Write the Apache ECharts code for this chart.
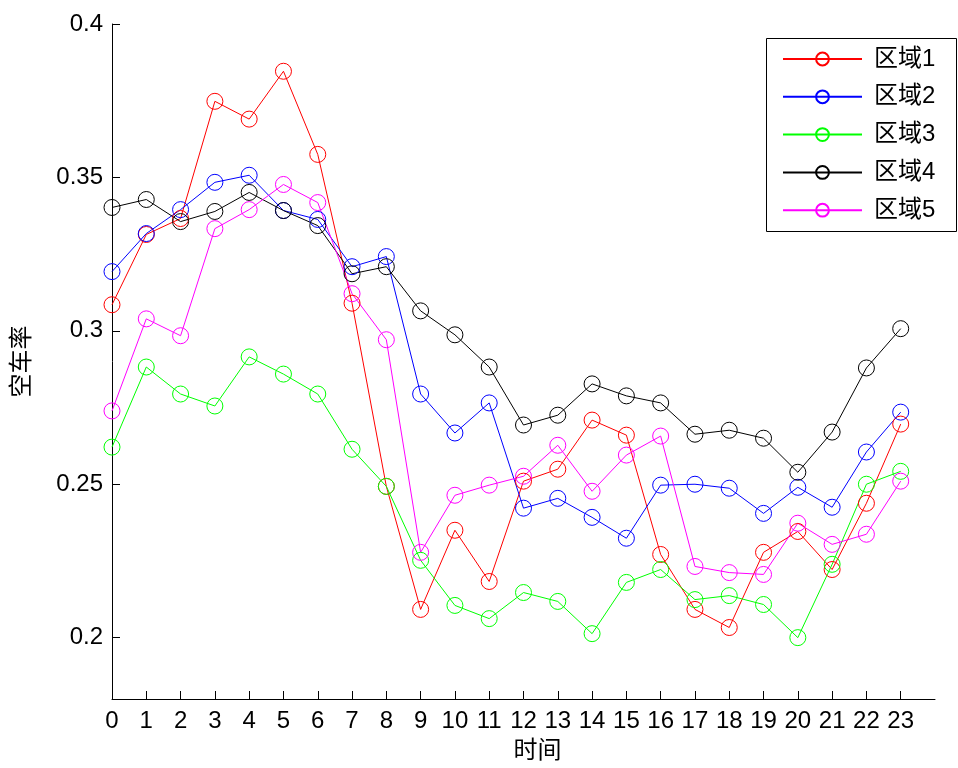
<!DOCTYPE html>
<html>
<head>
<meta charset="utf-8">
<script src="https://cdn.jsdelivr.net/npm/echarts@6/dist/echarts.min.js"></script>
<style>html,body{margin:0;padding:0;background:#fff;}#c{width:958px;height:768px;}</style>
</head>
<body>
<div id="c"></div>
<script>
const hours = [0,1,2,3,4,5,6,7,8,9,10,11,12,13,14,15,16,17,18,19,20,21,22,23];
const seriesNames = ['区域1','区域2','区域3','区域4','区域5'];
const region1 = [0.3085,0.3314,0.3366,0.3748,0.369,0.3846,0.3575,0.309,0.2493,0.2092,0.235,0.2183,0.251,0.2549,0.2709,0.266,0.2271,0.2092,0.2033,0.2278,0.2346,0.2222,0.2438,0.2696];
const region2 = [0.3193,0.3317,0.3395,0.3484,0.3507,0.3392,0.3363,0.3209,0.3242,0.2794,0.2667,0.2765,0.2422,0.2454,0.2392,0.2324,0.2497,0.25,0.2487,0.2405,0.249,0.2425,0.2605,0.2735];
const region3 = [0.2621,0.2882,0.2794,0.2755,0.2915,0.2859,0.2794,0.2614,0.2493,0.2252,0.2105,0.2062,0.2147,0.2118,0.2013,0.218,0.2222,0.2124,0.2137,0.2108,0.2,0.2239,0.25,0.2542];
const region4 = [0.3402,0.3428,0.3356,0.3389,0.3451,0.3392,0.3343,0.3186,0.3209,0.3065,0.2987,0.2882,0.2693,0.2725,0.2827,0.2788,0.2765,0.2663,0.2676,0.265,0.2539,0.267,0.2879,0.3007];
const region5 = [0.2739,0.3039,0.2984,0.3333,0.3395,0.3477,0.3418,0.3121,0.2971,0.2278,0.2464,0.2497,0.2526,0.2627,0.2477,0.2595,0.2657,0.2232,0.2212,0.2206,0.2373,0.2304,0.2337,0.251];
const yTicks = [0.2,0.25,0.3,0.35,0.4];
const colors = ['#ff0000','#0000ff','#00ff00','#000000','#ff00ff'];
const allData = [region1, region2, region3, region4, region5];

const font = '"Liberation Sans", Arial, "Noto Sans CJK SC", sans-serif';
const chart = echarts.init(document.getElementById('c'), null, {renderer: 'canvas'});
chart.setOption({
  animation: false,
  backgroundColor: '#ffffff',
  grid: {left: 112, right: 23, top: 24, bottom: 69, containLabel: false},
  graphic: [{
    type: 'rect', left: 766, top: 38, z: 100,
    shape: {width: 190, height: 193},
    style: {fill: '#ffffff', stroke: '#000000', lineWidth: 1}
  }],
  legend: {
    orient: 'vertical', left: 766, top: 38, z: 101,
    padding: [8, 10, 8, 16],
    itemWidth: 79, itemHeight: 16, itemGap: 11.8,
    textStyle: {fontSize: 24, fontFamily: font, color: '#000', lineHeight: 26, padding: [0,0,0,7]},
    data: seriesNames
  },
  xAxis: {
    type: 'value', min: 0, max: 24, interval: 1,
    name: '时间', nameLocation: 'middle', nameGap: 40,
    nameTextStyle: {fontSize: 24, fontFamily: font, color: '#000', padding: [0,0,0,28]},
    axisLine: {show: true, lineStyle: {color: '#000', width: 1}},
    axisTick: {show: true, inside: true, length: 8, lineStyle: {color: '#000'}, customValues: hours},
    axisLabel: {fontSize: 24, fontFamily: font, color: '#000', margin: 10, customValues: hours},
    splitLine: {show: false}
  },
  yAxis: {
    type: 'value', min: 0.18, max: 0.4,
    name: '空车率', nameLocation: 'middle', nameGap: 78,
    nameTextStyle: {fontSize: 24, fontFamily: font, color: '#000'},
    axisLine: {show: true, lineStyle: {color: '#000', width: 1}},
    axisTick: {show: true, inside: true, length: 8, lineStyle: {color: '#000'}, customValues: yTicks},
    axisLabel: {fontSize: 24, fontFamily: font, color: '#000', margin: 9, customValues: yTicks},
    splitLine: {show: false}
  },
  series: allData.map((arr, i) => ({
    name: seriesNames[i],
    type: 'line',
    data: hours.map((h, j) => [h, arr[j]]),
    symbol: 'circle',
    symbolSize: 16,
    showSymbol: true,
    lineStyle: {color: colors[i], width: 1},
    itemStyle: {color: 'rgba(0,0,0,0)', borderColor: colors[i], borderWidth: 1},
    emphasis: {disabled: true}
  }))
});
</script>
</body>
</html>
